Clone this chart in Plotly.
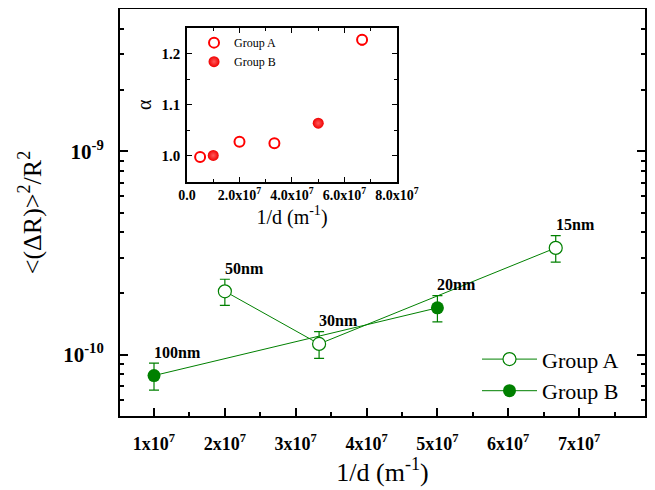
import numpy as np
import plotly.graph_objects as go

# ---------------- data ----------------
# main panel
a_x = [2.0e7, 3.33e7, 6.67e7]
a_y = [2.05e-10, 1.13e-10, 3.35e-10]
a_err = [0.30e-10, 0.17e-10, 0.50e-10]
a_lbl = ["50nm", "30nm", "15nm"]

b_x = [1.0e7, 5.0e7]
b_y = [7.9e-11, 1.70e-10]
b_err = [1.2e-11, 0.25e-10]
b_lbl = ["100nm", "20nm"]

x_ticks = [1e7, 2e7, 3e7, 4e7, 5e7, 6e7, 7e7]
x_ticktext = ["1x10<sup>7</sup>", "2x10<sup>7</sup>", "3x10<sup>7</sup>", "4x10<sup>7</sup>",
              "5x10<sup>7</sup>", "6x10<sup>7</sup>", "7x10<sup>7</sup>"]
y_ticks = [1e-10, 1e-9]
y_ticktext = ["10<sup>-10</sup>", "10<sup>-9</sup>"]

# inset
ia_x = [0.5e7, 2.0e7, 3.33e7, 6.67e7]
ia_y = [0.998, 1.028, 1.025, 1.227]
ia_err = [None, None, None, 0.010]

ib_x = [1.0e7, 5.0e7]
ib_y = [1.001, 1.064]

ix_ticks = [0, 2e7, 4e7, 6e7, 8e7]
ix_ticktext = ["0.0", "2.0x10<sup>7</sup>", "4.0x10<sup>7</sup>", "6.0x10<sup>7</sup>", "8.0x10<sup>7</sup>"]
iy_ticks = [1.0, 1.1, 1.2]
iy_ticktext = ["1.0", "1.1", "1.2"]

# ---------------- styles ----------------
GREEN = "rgb(0,128,0)"
RED = "rgb(255,0,0)"
SERIF = "Liberation Serif"


def bold(lst):
    return ["<b>%s</b>" % t for t in lst]


fig = go.Figure()

fig.add_trace(go.Scatter(
    x=a_x, y=a_y, mode="lines+markers", name="Group A",
    line=dict(color=GREEN, width=1),
    marker=dict(symbol="circle", size=13, color="white", line=dict(width=1.2, color=GREEN)),
    error_y=dict(type="data", array=a_err, color=GREEN, thickness=1.2, width=5),
    xaxis="x", yaxis="y", legend="legend",
))
fig.add_trace(go.Scatter(
    x=b_x, y=b_y, mode="lines+markers", name="Group B",
    line=dict(color=GREEN, width=1),
    marker=dict(symbol="circle", size=13, color=GREEN, line=dict(width=0)),
    error_y=dict(type="data", array=b_err, color=GREEN, thickness=1.2, width=5),
    xaxis="x", yaxis="y", legend="legend",
))

# inset traces
fig.add_trace(go.Scatter(
    x=ia_x, y=ia_y, mode="markers", name="Group A",
    marker=dict(symbol="circle", size=10, color="white", line=dict(width=2, color=RED)),
    error_y=dict(type="data", array=ia_err, color=RED, thickness=1.2, width=2),
    xaxis="x3", yaxis="y3", legend="legend2",
))
fig.add_trace(go.Scatter(
    x=ib_x, y=ib_y, mode="markers", name="Group B",
    marker=dict(symbol="circle", size=11, color="rgb(240,0,0)", line=dict(width=0),
                gradient=dict(type="radial", color="rgb(255,90,90)")),
    xaxis="x3", yaxis="y3", legend="legend2",
))

annotations = []
for xs, ys, ls in ((a_x, a_y, a_lbl), (b_x, b_y, b_lbl)):
    for xv, yv, lv in zip(xs, ys, ls):
        annotations.append(dict(
            x=xv, y=np.log10(yv), xref="x", yref="y", text="<b>%s</b>" % lv,
            showarrow=False, xanchor="left", yanchor="middle", xshift=-2, yshift=23,
            font=dict(family=SERIF, size=16, color="black"),
        ))

main_minor_y = [m * 10.0 ** e for e in (-11, -10, -9) for m in range(2, 10)]

# page has an 8px body margin, so the figure is sized to fit the 655x490 window
fig.update_layout(
    width=647, height=482,
    margin=dict(l=112, r=10, t=1, b=74),
    paper_bgcolor="white", plot_bgcolor="white",
    font=dict(family=SERIF, color="black"),
    showlegend=True,
    xaxis=dict(
        domain=[0, 1], range=[0.52e7, 7.93e7], automargin=False,
        tickmode="array", tickvals=x_ticks, ticktext=bold(x_ticktext),
        tickfont=dict(family=SERIF, size=18, color="black"),
        ticks="inside", ticklen=8, tickwidth=1.5, tickcolor="black",
        minor=dict(tickmode="array", tickvals=[1.5e7, 2.5e7, 3.5e7, 4.5e7, 5.5e7, 6.5e7, 7.5e7],
                   ticks="inside", ticklen=4, tickwidth=1.5, tickcolor="black"),
        showline=True, linewidth=2, linecolor="black", mirror=True,
        showgrid=False, zeroline=False, ticklabelstandoff=10,
        title=dict(text="1/d (m<sup>-1</sup>)", font=dict(family=SERIF, size=26), standoff=2),
        tickangle=0,
    ),
    xaxis2=dict(
        overlaying="x", side="top", anchor="y", range=[0, 525], automargin=False,
        tickmode="linear", tick0=38, dtick=37.5,
        ticks="inside", ticklen=8, tickwidth=1.5, tickcolor="black",
        showticklabels=False, showgrid=False, zeroline=False, showline=False,
    ),
    yaxis=dict(
        domain=[0, 1], type="log", range=[np.log10(5e-11), np.log10(5e-9)], automargin=False,
        tickmode="array", tickvals=y_ticks, ticktext=bold(y_ticktext),
        tickfont=dict(family=SERIF, size=21, color="black"),
        ticks="inside", ticklen=8, tickwidth=1.5, tickcolor="black",
        minor=dict(tickmode="array", tickvals=main_minor_y,
                   ticks="inside", ticklen=4, tickwidth=1.5, tickcolor="black"),
        showline=True, linewidth=2, linecolor="black", mirror="ticks",
        showgrid=False, zeroline=False, ticklabelstandoff=10,
        title=dict(text="<(ΔR)><sup>2</sup>/R<sup>2</sup>", font=dict(family=SERIF, size=26), standoff=14),
    ),
    xaxis3=dict(
        domain=[0.1276, 0.5276], anchor="y3", range=[0, 8e7], automargin=False,
        tickmode="array", tickvals=ix_ticks, ticktext=bold(ix_ticktext),
        tickfont=dict(family=SERIF, size=14, color="black"),
        ticks="inside", ticklen=5, tickwidth=1, tickcolor="black",
        minor=dict(tickmode="array", tickvals=[1e7, 3e7, 5e7, 7e7],
                   ticks="inside", ticklen=3, tickwidth=1, tickcolor="black"),
        showline=True, linewidth=1.5, linecolor="black", mirror="ticks",
        showgrid=False, zeroline=False, tickangle=0, ticklabelstandoff=0,
        title=dict(text="1/d (m<sup>-1</sup>)", font=dict(family=SERIF, size=20), standoff=6),
    ),
    yaxis3=dict(
        domain=[0.576, 0.9534], anchor="x3", range=[0.95, 1.25], automargin=False,
        tickmode="array", tickvals=iy_ticks, ticktext=bold(iy_ticktext),
        tickfont=dict(family=SERIF, size=15, color="black"),
        ticks="inside", ticklen=5, tickwidth=1, tickcolor="black",
        minor=dict(tickmode="array", tickvals=[1.05, 1.15],
                   ticks="inside", ticklen=3, tickwidth=1, tickcolor="black"),
        showline=True, linewidth=1.5, linecolor="black", mirror="ticks",
        showgrid=False, zeroline=False, ticklabelstandoff=2,
        title=dict(text="α", font=dict(family=SERIF, size=20), standoff=4),
    ),
    legend=dict(
        x=0.96, y=0.1, xanchor="right", yanchor="middle",
        font=dict(family=SERIF, size=22, color="black"),
        bgcolor="rgba(0,0,0,0)", borderwidth=0, itemwidth=55, tracegroupgap=0,
    ),
    legend2=dict(
        x=0.141, y=0.953, xanchor="left", yanchor="top",
        font=dict(family=SERIF, size=12, color="black"),
        bgcolor="rgba(0,0,0,0)", borderwidth=0, itemwidth=30, tracegroupgap=0,
    ),
    annotations=annotations,
)

fig.write_html("out.html")
